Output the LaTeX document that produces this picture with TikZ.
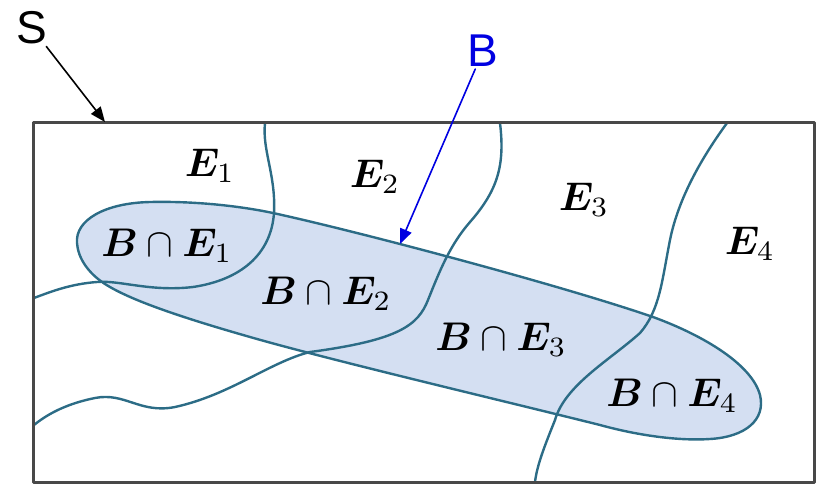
\documentclass[tikz,border=0pt]{standalone}
\usepackage{fontspec}
\usepackage{bm}
\newfontfamily\arrowfont{Liberation Sans}
\usetikzlibrary{arrows.meta}

\definecolor{partline}{RGB}{44,108,134}
\definecolor{bfill}{RGB}{212,223,242}
\definecolor{frame}{RGB}{72,72,72}
\definecolor{bblue}{RGB}{0,0,225}

\newcommand{\setmath}[1]{\scalebox{4}{$#1$}}

\begin{document}
\begin{tikzpicture}[x=1pt, y=-1pt, line join=round, line cap=round,
  part/.style={draw=partline, line width=2.4pt},
  setlbl/.style={inner sep=0pt},
  callout/.style={font=\arrowfont\fontsize{46}{52}\selectfont, inner sep=2pt}]

  %% ════ 集合 B 的填充 ════
  \fill[bfill] (77,243) .. controls (75,220) and (105,203) .. (150,202)
    .. controls (195,201) and (240,206) .. (273,213)
    .. controls (360,232) and (560,285) .. (653,317)
    .. controls (705,336) and (752,365) .. (760,395)
    .. controls (766,420) and (745,437) .. (710,439)
    .. controls (680,441) and (640,436) .. (600,425)
    .. controls (500,400) and (330,360) .. (250,337)
    .. controls (180,317) and (130,300) .. (105,284)
    .. controls (88,273) and (78,258) .. (77,243) -- cycle;

  %% ════ 分割曲线 E1 | E2 | E3 | E4 ════
  \draw[part] (265,123) .. controls (262,150) and (276,175) .. (274,213)
    .. controls (271,255) and (240,280) .. (193,287)
    .. controls (150,292) and (120,280) .. (97,282)
    .. controls (70,284) and (50,292) .. (34,298);
  \draw[part] (500,123) .. controls (505,165) and (498,190) .. (470,222)
    .. controls (450,245) and (440,270) .. (428,300)
    .. controls (418,325) and (400,340) .. (310,352)
    .. controls (270,362) and (230,395) .. (175,407)
    .. controls (140,414) and (125,392) .. (95,398)
    .. controls (70,403) and (50,412) .. (34,425);
  \draw[part] (727,123) .. controls (700,160) and (678,200) .. (670,240)
    .. controls (662,280) and (660,310) .. (640,333)
    .. controls (610,360) and (565,385) .. (555,420)
    .. controls (545,445) and (537,465) .. (535,482);

  %% ════ 集合 B 的边界 ════
  \draw[part] (77,243) .. controls (75,220) and (105,203) .. (150,202)
    .. controls (195,201) and (240,206) .. (273,213)
    .. controls (360,232) and (560,285) .. (653,317)
    .. controls (705,336) and (752,365) .. (760,395)
    .. controls (766,420) and (745,437) .. (710,439)
    .. controls (680,441) and (640,436) .. (600,425)
    .. controls (500,400) and (330,360) .. (250,337)
    .. controls (180,317) and (130,300) .. (105,284)
    .. controls (88,273) and (78,258) .. (77,243) -- cycle;

  %% ════ 样本空间 S 的边框 ════
  \draw[frame, line width=3pt, line cap=butt] (33,123) rectangle (814,482);

  %% ════ 标签 ════
  \node[setlbl] (e1) at (210,166) {\setmath{\bm{E}_1}};
  \node[setlbl] (e2) at (375,177) {\setmath{\bm{E}_2}};
  \node[setlbl] (e3) at (584,200) {\setmath{\bm{E}_3}};
  \node[setlbl] (e4) at (750,244) {\setmath{\bm{E}_4}};
  \node[setlbl] (be1) at (167,246) {\setmath{\bm{B}\cap\bm{E}_1}};
  \node[setlbl] (be2) at (326,294) {\setmath{\bm{B}\cap\bm{E}_2}};
  \node[setlbl] (be3) at (501,340) {\setmath{\bm{B}\cap\bm{E}_3}};
  \node[setlbl] (be4) at (672,396) {\setmath{\bm{B}\cap\bm{E}_4}};

  %% ════ 指示箭头 ════
  \node[callout] (S) at (32,28) {S};
  \node[callout, text=bblue] (B) at (483,51) {B};
  \coordinate (stip) at (105,122);
  \coordinate (btip) at (400,244);
  \draw[line width=1.6pt, -{Triangle[length=15pt, width=12pt]}] (S) -- (stip);
  \draw[bblue, line width=1.6pt, -{Triangle[length=15pt, width=12pt]}] (B) -- (btip);

  % 钉死画布
  \pgfresetboundingbox
  \path[use as bounding box] (0,0) rectangle (819,484);
\end{tikzpicture}
\end{document}
